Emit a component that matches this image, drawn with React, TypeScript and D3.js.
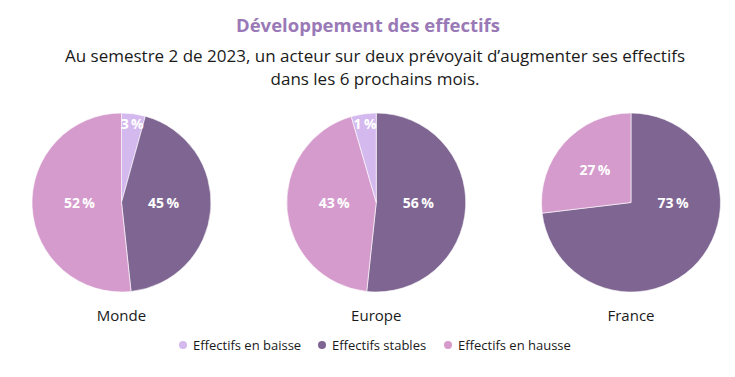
import React from "react";
import * as d3 from "d3";

const categories = ["Effectifs en baisse", "Effectifs stables", "Effectifs en hausse"];
const colors = ["#d4b9ee", "#7e6592", "#d59bcc"];
const regions = ["Monde", "Europe", "France"];
// slice shares as drawn (percent)
const baisse = [4.3, 4.5, 0];
const stables = [44.0, 51.7, 73.1];
const hausse = [51.7, 43.8, 26.9];
// printed labels
const labelBaisse = ["3\u2009%", "1\u2009%", ""];
const labelStables = ["45\u2009%", "56\u2009%", "73\u2009%"];
const labelHausse = ["52\u2009%", "43\u2009%", "27\u2009%"];
// index of the category drawn first from 12 o'clock, clockwise
const firstSlice = [0, 1, 1];

const title = "Développement des effectifs";
const subtitle1 = "Au semestre 2 de 2023, un acteur sur deux prévoyait d\u2019augmenter ses effectifs";
const subtitle2 = "dans les 6 prochains mois.";

const W = 735;
const H = 377;
const R = 89.5;
const CY = 202.5;
const FONT = "'Open Sans', 'Noto Sans', sans-serif";

export default function App() {
  const x = d3.scalePoint<string>().domain(regions).range([121.5, 631]);
  const arc = d3.arc<d3.PieArcDatum<any>>().innerRadius(0).outerRadius(R);

  return (
    <svg width={W} height={H} style={{ position: "absolute", left: 0, top: 0, background: "#fff" }} fontFamily={FONT}>
      <text x={368} y={32} textAnchor="middle" fontSize={18.5} fontWeight={700} fill="#9a79b7">{title}</text>
      <text x={375} y={62} textAnchor="middle" fontSize={17} fill="#1a1a1a">{subtitle1}</text>
      <text x={375} y={85} textAnchor="middle" fontSize={17} fill="#1a1a1a">{subtitle2}</text>
      {regions.map((reg, ri) => {
        const vals = [baisse[ri], stables[ri], hausse[ri]];
        const labs = [labelBaisse[ri], labelStables[ri], labelHausse[ri]];
        const order = [0, 1, 2].map((k) => (firstSlice[ri] + k) % 3);
        const items = order.map((ci) => ({ ci, v: vals[ci], lab: labs[ci] }));
        const pie = d3.pie<any>().sort(null).value((d) => d.v)(items);
        const cx = x(reg)!;
        return (
          <g key={reg}>
            <g transform={`translate(${cx},${CY})`}>
              {pie.filter((p) => p.data.v > 0).map((p) => (
                <path key={p.data.ci} d={arc(p)!} fill={colors[p.data.ci]} stroke="#fff" strokeWidth={0.6} />
              ))}
              {pie.filter((p) => p.data.v > 0).map((p) => {
                const mid = (p.startAngle + p.endAngle) / 2;
                const share = p.data.v;
                let lx: number, ly: number;
                if (share > 40) {
                  lx = Math.sign(Math.sin(mid)) * 0.47 * R;
                  ly = 0;
                } else {
                  const rr = share < 10 ? 0.89 * R : 0.54 * R;
                  lx = Math.sin(mid) * rr;
                  ly = -Math.cos(mid) * rr;
                }
                return (
                  <text key={"l" + p.data.ci} x={lx} y={ly} dy="0.36em" textAnchor="middle" fontSize={14} fontWeight={700} fill="#fff">
                    {p.data.lab}
                  </text>
                );
              })}
            </g>
            <text x={cx} y={321} textAnchor="middle" fontSize={15} fill="#1a1a1a">{reg}</text>
          </g>
        );
      })}
      {categories.map((c, i) => {
        const lx = [183, 322, 448][i];
        return (
          <g key={c}>
            <circle cx={lx} cy={345} r={4} fill={colors[i]} />
            <text x={lx + 10} y={345} dy="0.35em" fontSize={13} fill="#1a1a1a">{c}</text>
          </g>
        );
      })}
    </svg>
  );
}
